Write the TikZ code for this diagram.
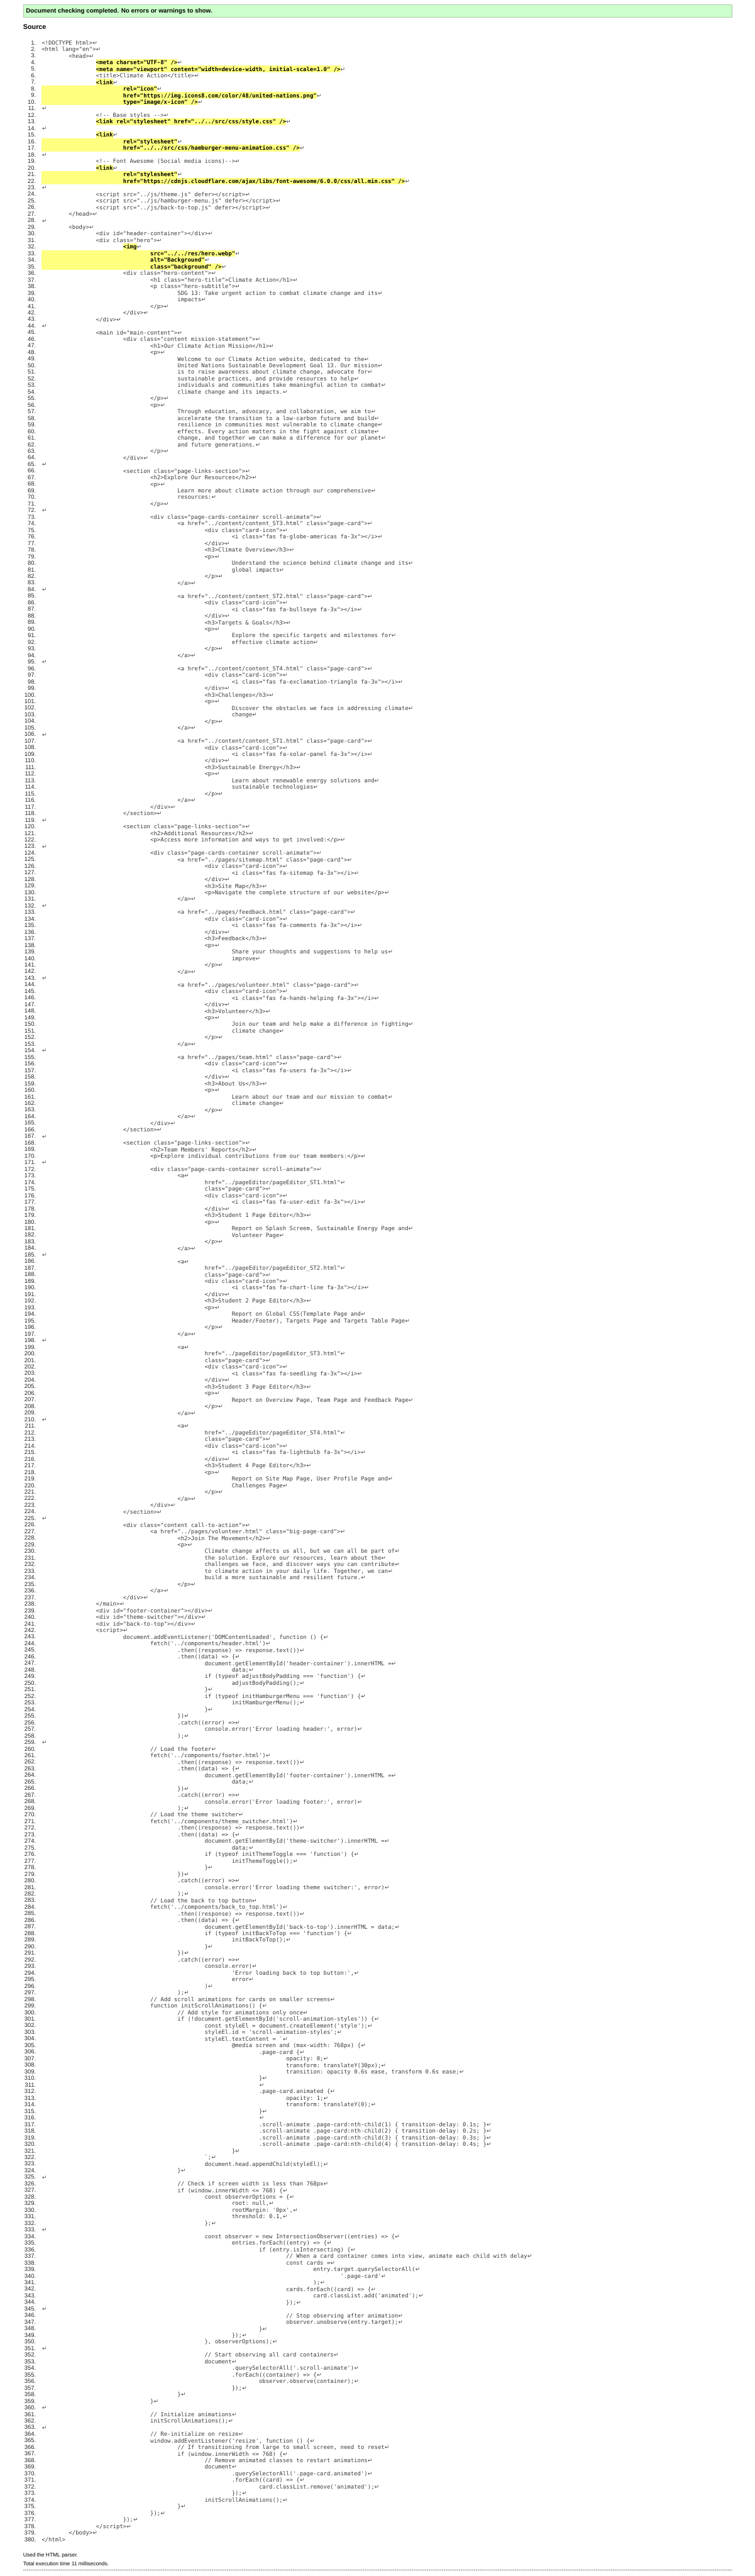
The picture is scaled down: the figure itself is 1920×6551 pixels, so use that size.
\documentclass[tikz,border=0pt]{standalone}
\usepackage{fontspec}
\setmainfont{Liberation Sans}
\setmonofont{DejaVu Sans Mono}[WordSpace={1,0,0}]
\newfontfamily\arrowfont{DejaVu Sans}
\definecolor{okbg}{RGB}{204,255,204}
\definecolor{okline}{RGB}{170,200,170}
\definecolor{hl}{RGB}{255,255,128}
\definecolor{txt}{RGB}{60,60,60}
\newcount\srcline
\newcommand\srcpos[1]{\global\advance\srcline by 1
  \pgfmathsetmacro\yy{108.2+(\the\srcline-1)*16.753}%
  \pgfmathsetmacro\xx{105.8+#1*69.12}%
  \edef\nm{\the\srcline}}
\newcommand\lnumnode{\node[lnum] (N\nm) at (91.7,{\yy+5.4}) {\nm.};}
\newcommand\cl[2]{\srcpos{#1}\lnumnode
  \node[code] (L\nm) at (\xx,{\yy+5.7}) {#2};
  \node[ret] (R\nm) at (L\nm.base east) {↵};}
\newcommand\clnr[2]{\srcpos{#1}\lnumnode
  \node[code] (L\nm) at (\xx,{\yy+5.7}) {#2};}
\newcommand\hla[2]{\srcpos{#1}\lnumnode
  \node[code,hltext] (L\nm) at (\xx,{\yy+5.7}) {#2};
  \node[ret] (R\nm) at (L\nm.base east) {↵};}
\newcommand\hlb[2]{\srcpos{#1}\lnumnode
  \fill[hl] (105.8,{\yy-8.15}) rectangle ({\xx+0.5},{\yy+8.65});
  \node[code,hltext] (L\nm) at (\xx,{\yy+5.7}) {#2};
  \node[ret] (R\nm) at (L\nm.base east) {↵};}
\tikzset{
  lnum/.style={anchor=base east, inner sep=0pt, font=\fontsize{15}{16}\selectfont, text=black!85},
  code/.style={anchor=base west, inner sep=0pt, text height=13.85pt, text depth=2.95pt,
    font=\ttfamily\fontsize{14.35}{16}\selectfont, text=txt},
  hltext/.style={fill=hl, text=black, font=\ttfamily\bfseries\fontsize{14.35}{16}\selectfont},
  ret/.style={anchor=base west, inner sep=0pt, font=\arrowfont\fontsize{14}{16}\selectfont, text=txt},
  plain/.style={anchor=base west, inner sep=0pt, text=black}
}
\begin{document}
\begin{tikzpicture}[x=1pt,y=-1pt]
\fill[white] (0,0) rectangle (1920,6551);
\useasboundingbox (0,0) rectangle (1920,6551);
\draw[fill=okbg, draw=okline] (58.7,11.4) rectangle (1861.3,43.6);
\node[plain, font=\bfseries\fontsize{15.7}{18}\selectfont] (banner) at (66,32.9) {Document checking completed. No errors or warnings to show.};
\node[plain, font=\bfseries\fontsize{17.3}{20}\selectfont] (srchead) at (58.7,73.9) {Source};
\cl{0}{<!DOCTYPE html>}
\cl{0}{<html lang="en">}
\cl{1}{<head>}
\hla{2}{<meta charset="UTF-8" />}
\hla{2}{<meta name="viewport" content="width=device-width, initial-scale=1.0" />}
\cl{2}{<title>Climate Action</title>}
\hla{2}{<link}
\hlb{3}{rel="icon"}
\hlb{3}{href="https://img.icons8.com/color/48/united-nations.png"}
\hlb{3}{type="image/x-icon" />}
\cl{0}{}
\cl{2}{<!-- Base styles -->}
\hla{2}{<link rel="stylesheet" href="../../src/css/style.css" />}
\cl{0}{}
\hla{2}{<link}
\hlb{3}{rel="stylesheet"}
\hlb{3}{href="../../src/css/hamburger-menu-animation.css" />}
\cl{0}{}
\cl{2}{<!-- Font Awesome (Social media icons)-->}
\hla{2}{<link}
\hlb{3}{rel="stylesheet"}
\hlb{3}{href="https://cdnjs.cloudflare.com/ajax/libs/font-awesome/6.0.0/css/all.min.css" />}
\cl{0}{}
\cl{2}{<script src="../js/theme.js" defer></script>}
\cl{2}{<script src="../js/hamburger-menu.js" defer></script>}
\cl{2}{<script src="../js/back-to-top.js" defer></script>}
\cl{1}{</head>}
\cl{0}{}
\cl{1}{<body>}
\cl{2}{<div id="header-container"></div>}
\cl{2}{<div class="hero">}
\hla{3}{<img}
\hlb{4}{src="../../res/hero.webp"}
\hlb{4}{alt="Background"}
\hlb{4}{class="background" />}
\cl{3}{<div class="hero-content">}
\cl{4}{<h1 class="hero-title">Climate Action</h1>}
\cl{4}{<p class="hero-subtitle">}
\cl{5}{SDG 13: Take urgent action to combat climate change and its}
\cl{5}{impacts}
\cl{4}{</p>}
\cl{3}{</div>}
\cl{2}{</div>}
\cl{0}{}
\cl{2}{<main id="main-content">}
\cl{3}{<div class="content mission-statement">}
\cl{4}{<h1>Our Climate Action Mission</h1>}
\cl{4}{<p>}
\cl{5}{Welcome to our Climate Action website, dedicated to the}
\cl{5}{United Nations Sustainable Development Goal 13. Our mission}
\cl{5}{is to raise awareness about climate change, advocate for}
\cl{5}{sustainable practices, and provide resources to help}
\cl{5}{individuals and communities take meaningful action to combat}
\cl{5}{climate change and its impacts.}
\cl{4}{</p>}
\cl{4}{<p>}
\cl{5}{Through education, advocacy, and collaboration, we aim to}
\cl{5}{accelerate the transition to a low-carbon future and build}
\cl{5}{resilience in communities most vulnerable to climate change}
\cl{5}{effects. Every action matters in the fight against climate}
\cl{5}{change, and together we can make a difference for our planet}
\cl{5}{and future generations.}
\cl{4}{</p>}
\cl{3}{</div>}
\cl{0}{}
\cl{3}{<section class="page-links-section">}
\cl{4}{<h2>Explore Our Resources</h2>}
\cl{4}{<p>}
\cl{5}{Learn more about climate action through our comprehensive}
\cl{5}{resources:}
\cl{4}{</p>}
\cl{0}{}
\cl{4}{<div class="page-cards-container scroll-animate">}
\cl{5}{<a href="../content/content\_ST3.html" class="page-card">}
\cl{6}{<div class="card-icon">}
\cl{7}{<i class="fas fa-globe-americas fa-3x"></i>}
\cl{6}{</div>}
\cl{6}{<h3>Climate Overview</h3>}
\cl{6}{<p>}
\cl{7}{Understand the science behind climate change and its}
\cl{7}{global impacts}
\cl{6}{</p>}
\cl{5}{</a>}
\cl{0}{}
\cl{5}{<a href="../content/content\_ST2.html" class="page-card">}
\cl{6}{<div class="card-icon">}
\cl{7}{<i class="fas fa-bullseye fa-3x"></i>}
\cl{6}{</div>}
\cl{6}{<h3>Targets \& Goals</h3>}
\cl{6}{<p>}
\cl{7}{Explore the specific targets and milestones for}
\cl{7}{effective climate action}
\cl{6}{</p>}
\cl{5}{</a>}
\cl{0}{}
\cl{5}{<a href="../content/content\_ST4.html" class="page-card">}
\cl{6}{<div class="card-icon">}
\cl{7}{<i class="fas fa-exclamation-triangle fa-3x"></i>}
\cl{6}{</div>}
\cl{6}{<h3>Challenges</h3>}
\cl{6}{<p>}
\cl{7}{Discover the obstacles we face in addressing climate}
\cl{7}{change}
\cl{6}{</p>}
\cl{5}{</a>}
\cl{0}{}
\cl{5}{<a href="../content/content\_ST1.html" class="page-card">}
\cl{6}{<div class="card-icon">}
\cl{7}{<i class="fas fa-solar-panel fa-3x"></i>}
\cl{6}{</div>}
\cl{6}{<h3>Sustainable Energy</h3>}
\cl{6}{<p>}
\cl{7}{Learn about renewable energy solutions and}
\cl{7}{sustainable technologies}
\cl{6}{</p>}
\cl{5}{</a>}
\cl{4}{</div>}
\cl{3}{</section>}
\cl{0}{}
\cl{3}{<section class="page-links-section">}
\cl{4}{<h2>Additional Resources</h2>}
\cl{4}{<p>Access more information and ways to get involved:</p>}
\cl{0}{}
\cl{4}{<div class="page-cards-container scroll-animate">}
\cl{5}{<a href="../pages/sitemap.html" class="page-card">}
\cl{6}{<div class="card-icon">}
\cl{7}{<i class="fas fa-sitemap fa-3x"></i>}
\cl{6}{</div>}
\cl{6}{<h3>Site Map</h3>}
\cl{6}{<p>Navigate the complete structure of our website</p>}
\cl{5}{</a>}
\cl{0}{}
\cl{5}{<a href="../pages/feedback.html" class="page-card">}
\cl{6}{<div class="card-icon">}
\cl{7}{<i class="fas fa-comments fa-3x"></i>}
\cl{6}{</div>}
\cl{6}{<h3>Feedback</h3>}
\cl{6}{<p>}
\cl{7}{Share your thoughts and suggestions to help us}
\cl{7}{improve}
\cl{6}{</p>}
\cl{5}{</a>}
\cl{0}{}
\cl{5}{<a href="../pages/volunteer.html" class="page-card">}
\cl{6}{<div class="card-icon">}
\cl{7}{<i class="fas fa-hands-helping fa-3x"></i>}
\cl{6}{</div>}
\cl{6}{<h3>Volunteer</h3>}
\cl{6}{<p>}
\cl{7}{Join our team and help make a difference in fighting}
\cl{7}{climate change}
\cl{6}{</p>}
\cl{5}{</a>}
\cl{0}{}
\cl{5}{<a href="../pages/team.html" class="page-card">}
\cl{6}{<div class="card-icon">}
\cl{7}{<i class="fas fa-users fa-3x"></i>}
\cl{6}{</div>}
\cl{6}{<h3>About Us</h3>}
\cl{6}{<p>}
\cl{7}{Learn about our team and our mission to combat}
\cl{7}{climate change}
\cl{6}{</p>}
\cl{5}{</a>}
\cl{4}{</div>}
\cl{3}{</section>}
\cl{0}{}
\cl{3}{<section class="page-links-section">}
\cl{4}{<h2>Team Members' Reports</h2>}
\cl{4}{<p>Explore individual contributions from our team members:</p>}
\cl{0}{}
\cl{4}{<div class="page-cards-container scroll-animate">}
\cl{5}{<a}
\cl{6}{href="../pageEditor/pageEditor\_ST1.html"}
\cl{6}{class="page-card">}
\cl{6}{<div class="card-icon">}
\cl{7}{<i class="fas fa-user-edit fa-3x"></i>}
\cl{6}{</div>}
\cl{6}{<h3>Student 1 Page Editor</h3>}
\cl{6}{<p>}
\cl{7}{Report on Splash Screem, Sustainable Energy Page and}
\cl{7}{Volunteer Page}
\cl{6}{</p>}
\cl{5}{</a>}
\cl{0}{}
\cl{5}{<a}
\cl{6}{href="../pageEditor/pageEditor\_ST2.html"}
\cl{6}{class="page-card">}
\cl{6}{<div class="card-icon">}
\cl{7}{<i class="fas fa-chart-line fa-3x"></i>}
\cl{6}{</div>}
\cl{6}{<h3>Student 2 Page Editor</h3>}
\cl{6}{<p>}
\cl{7}{Report on Global CSS(Template Page and}
\cl{7}{Header/Footer), Targets Page and Targets Table Page}
\cl{6}{</p>}
\cl{5}{</a>}
\cl{0}{}
\cl{5}{<a}
\cl{6}{href="../pageEditor/pageEditor\_ST3.html"}
\cl{6}{class="page-card">}
\cl{6}{<div class="card-icon">}
\cl{7}{<i class="fas fa-seedling fa-3x"></i>}
\cl{6}{</div>}
\cl{6}{<h3>Student 3 Page Editor</h3>}
\cl{6}{<p>}
\cl{7}{Report on Overview Page, Team Page and Feedback Page}
\cl{6}{</p>}
\cl{5}{</a>}
\cl{0}{}
\cl{5}{<a}
\cl{6}{href="../pageEditor/pageEditor\_ST4.html"}
\cl{6}{class="page-card">}
\cl{6}{<div class="card-icon">}
\cl{7}{<i class="fas fa-lightbulb fa-3x"></i>}
\cl{6}{</div>}
\cl{6}{<h3>Student 4 Page Editor</h3>}
\cl{6}{<p>}
\cl{7}{Report on Site Map Page, User Profile Page and}
\cl{7}{Challenges Page}
\cl{6}{</p>}
\cl{5}{</a>}
\cl{4}{</div>}
\cl{3}{</section>}
\cl{0}{}
\cl{3}{<div class="content call-to-action">}
\cl{4}{<a href="../pages/volunteer.html" class="big-page-card">}
\cl{5}{<h2>Join The Movement</h2>}
\cl{5}{<p>}
\cl{6}{Climate change affects us all, but we can all be part of}
\cl{6}{the solution. Explore our resources, learn about the}
\cl{6}{challenges we face, and discover ways you can contribute}
\cl{6}{to climate action in your daily life. Together, we can}
\cl{6}{build a more sustainable and resilient future.}
\cl{5}{</p>}
\cl{4}{</a>}
\cl{3}{</div>}
\cl{2}{</main>}
\cl{2}{<div id="footer-container"></div>}
\cl{2}{<div id="theme-switcher"></div>}
\cl{2}{<div id="back-to-top"></div>}
\cl{2}{<script>}
\cl{3}{document.addEventListener('DOMContentLoaded', function () \{}
\cl{4}{fetch('../components/header.html')}
\cl{5}{.then((response) => response.text())}
\cl{5}{.then((data) => \{}
\cl{6}{document.getElementById('header-container').innerHTML =}
\cl{7}{data;}
\cl{6}{if (typeof adjustBodyPadding === 'function') \{}
\cl{7}{adjustBodyPadding();}
\cl{6}{\}}
\cl{6}{if (typeof initHamburgerMenu === 'function') \{}
\cl{7}{initHamburgerMenu();}
\cl{6}{\}}
\cl{5}{\})}
\cl{5}{.catch((error) =>}
\cl{6}{console.error('Error loading header:', error)}
\cl{5}{);}
\cl{0}{}
\cl{4}{// Load the footer}
\cl{4}{fetch('../components/footer.html')}
\cl{5}{.then((response) => response.text())}
\cl{5}{.then((data) => \{}
\cl{6}{document.getElementById('footer-container').innerHTML =}
\cl{7}{data;}
\cl{5}{\})}
\cl{5}{.catch((error) =>}
\cl{6}{console.error('Error loading footer:', error)}
\cl{5}{);}
\cl{4}{// Load the theme switcher}
\cl{4}{fetch('../components/theme\_switcher.html')}
\cl{5}{.then((response) => response.text())}
\cl{5}{.then((data) => \{}
\cl{6}{document.getElementById('theme-switcher').innerHTML =}
\cl{7}{data;}
\cl{6}{if (typeof initThemeToggle === 'function') \{}
\cl{7}{initThemeToggle();}
\cl{6}{\}}
\cl{5}{\})}
\cl{5}{.catch((error) =>}
\cl{6}{console.error('Error loading theme switcher:', error)}
\cl{5}{);}
\cl{4}{// Load the back to top button}
\cl{4}{fetch('../components/back\_to\_top.html')}
\cl{5}{.then((response) => response.text())}
\cl{5}{.then((data) => \{}
\cl{6}{document.getElementById('back-to-top').innerHTML = data;}
\cl{6}{if (typeof initBackToTop === 'function') \{}
\cl{7}{initBackToTop();}
\cl{6}{\}}
\cl{5}{\})}
\cl{5}{.catch((error) =>}
\cl{6}{console.error(}
\cl{7}{'Error loading back to top button:',}
\cl{7}{error}
\cl{6}{)}
\cl{5}{);}
\cl{4}{// Add scroll animations for cards on smaller screens}
\cl{4}{function initScrollAnimations() \{}
\cl{5}{// Add style for animations only once}
\cl{5}{if (!document.getElementById('scroll-animation-styles')) \{}
\cl{6}{const styleEl = document.createElement('style');}
\cl{6}{styleEl.id = 'scroll-animation-styles';}
\cl{6}{styleEl.textContent = `}
\cl{7}{@media screen and (max-width: 768px) \{}
\cl{8}{.page-card \{}
\cl{9}{opacity: 0;}
\cl{9}{transform: translateY(30px);}
\cl{9}{transition: opacity 0.6s ease, transform 0.6s ease;}
\cl{8}{\}}
\cl{8}{}
\cl{8}{.page-card.animated \{}
\cl{9}{opacity: 1;}
\cl{9}{transform: translateY(0);}
\cl{8}{\}}
\cl{8}{}
\cl{8}{.scroll-animate .page-card:nth-child(1) \{ transition-delay: 0.1s; \}}
\cl{8}{.scroll-animate .page-card:nth-child(2) \{ transition-delay: 0.2s; \}}
\cl{8}{.scroll-animate .page-card:nth-child(3) \{ transition-delay: 0.3s; \}}
\cl{8}{.scroll-animate .page-card:nth-child(4) \{ transition-delay: 0.4s; \}}
\cl{7}{\}}
\cl{6}{`;}
\cl{6}{document.head.appendChild(styleEl);}
\cl{5}{\}}
\cl{0}{}
\cl{5}{// Check if screen width is less than 768px}
\cl{5}{if (window.innerWidth <= 768) \{}
\cl{6}{const observerOptions = \{}
\cl{7}{root: null,}
\cl{7}{rootMargin: '0px',}
\cl{7}{threshold: 0.1,}
\cl{6}{\};}
\cl{0}{}
\cl{6}{const observer = new IntersectionObserver((entries) => \{}
\cl{7}{entries.forEach((entry) => \{}
\cl{8}{if (entry.isIntersecting) \{}
\cl{9}{// When a card container comes into view, animate each child with delay}
\cl{9}{const cards =}
\cl{10}{entry.target.querySelectorAll(}
\cl{11}{'.page-card'}
\cl{10}{);}
\cl{9}{cards.forEach((card) => \{}
\cl{10}{card.classList.add('animated');}
\cl{9}{\});}
\cl{0}{}
\cl{9}{// Stop observing after animation}
\cl{9}{observer.unobserve(entry.target);}
\cl{8}{\}}
\cl{7}{\});}
\cl{6}{\}, observerOptions);}
\cl{0}{}
\cl{6}{// Start observing all card containers}
\cl{6}{document}
\cl{7}{.querySelectorAll('.scroll-animate')}
\cl{7}{.forEach((container) => \{}
\cl{8}{observer.observe(container);}
\cl{7}{\});}
\cl{5}{\}}
\cl{4}{\}}
\cl{0}{}
\cl{4}{// Initialize animations}
\cl{4}{initScrollAnimations();}
\cl{0}{}
\cl{4}{// Re-initialize on resize}
\cl{4}{window.addEventListener('resize', function () \{}
\cl{5}{// If transitioning from large to small screen, need to reset}
\cl{5}{if (window.innerWidth <= 768) \{}
\cl{6}{// Remove animated classes to restart animations}
\cl{6}{document}
\cl{7}{.querySelectorAll('.page-card.animated')}
\cl{7}{.forEach((card) => \{}
\cl{8}{card.classList.remove('animated');}
\cl{7}{\});}
\cl{6}{initScrollAnimations();}
\cl{5}{\}}
\cl{4}{\});}
\cl{3}{\});}
\cl{2}{</script>}
\cl{1}{</body>}
\clnr{0}{</html>}
\node[plain, font=\fontsize{13.5}{16}\selectfont] (parser) at (58.7,6502.8) {Used the HTML parser.};
\node[plain, font=\fontsize{13.5}{16}\selectfont] (exectime) at (58.7,6525.1) {Total execution time 11 milliseconds.};
\draw[dotted, black!55] (58.7,6534.7) -- (1861.3,6534.7);
\end{tikzpicture}
\end{document}
